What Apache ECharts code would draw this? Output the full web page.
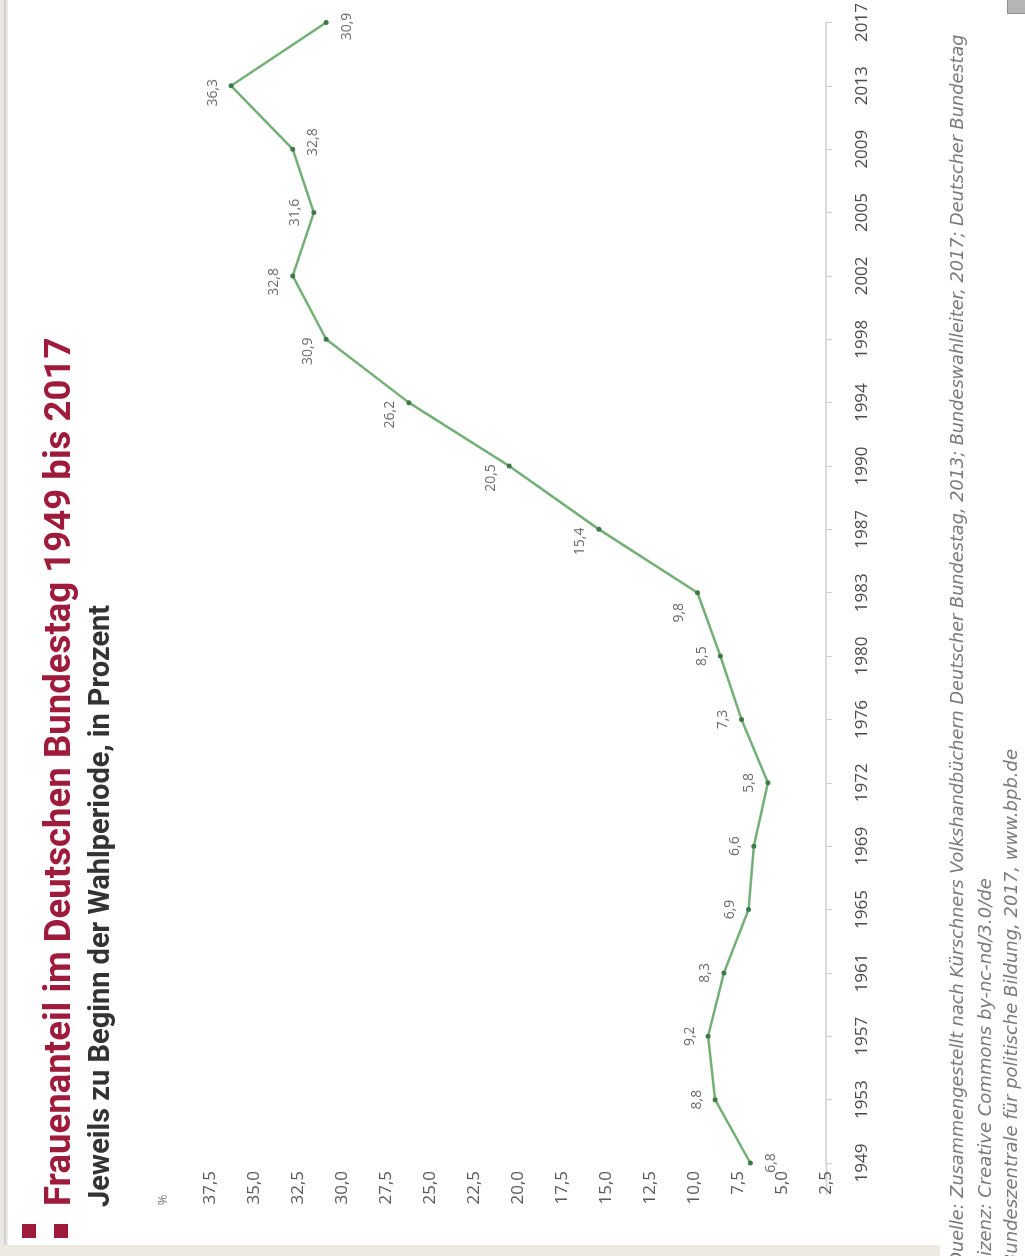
<!DOCTYPE html>
<html>
<head>
<meta charset="utf-8">
<script src="https://cdn.jsdelivr.net/npm/echarts@6/dist/echarts.min.js"></script>
<style>
html,body{margin:0;padding:0;background:#fff;}
#chart{width:1025px;height:1256px;}
</style>
</head>
<body>
<div id="chart"></div>
<script>
// ---- data ----
const years = ['1949','1953','1957','1961','1965','1969','1972','1976','1980','1983','1987','1990','1994','1998','2002','2005','2009','2013','2017'];
const shares = [6.8, 8.8, 9.2, 8.3, 6.9, 6.6, 5.8, 7.3, 8.5, 9.8, 15.4, 20.5, 26.2, 30.9, 32.8, 31.6, 32.8, 36.3, 30.9];
const titleText = 'Frauenanteil im Deutschen Bundestag 1949 bis 2017';
const subtitleText = 'Jeweils zu Beginn der Wahlperiode, in Prozent';
const unitText = '%';
const sourceLines = [
  'Quelle: Zusammengestellt nach Kürschners Volkshandbüchern Deutscher Bundestag, 2013; Bundeswahlleiter, 2017; Deutscher Bundestag',
  'Lizenz: Creative Commons by-nc-nd/3.0/de',
  'Bundeszentrale für politische Bildung, 2017, www.bpb.de'
];

// ---- layout / style ----
const fmt = v => v.toFixed(1).replace('.', ',');
// label side per point: 'L' = screen left, 'R' = screen right; dy = downward nudge in screen px
const labelLayout = [['R',0],['L',0],['L',0],['L',0],['L',0],['L',0],['L',0],['L',0],['L',0],['L',20],['L',12],['L',12],['L',12],['L',12],['L',6],['L',0],['R',-7],['L',7],['R',4]];

const seriesData = shares.map((v, i) => {
  const [side, dy] = labelLayout[i];
  return {
    value: v,
    label: {
      position: side === 'L' ? 'left' : 'right',
      distance: side === 'L' ? 16 : 18,
      // offset is applied in the rotated label frame
      offset: [-dy, 0]
    }
  };
});

const chart = echarts.init(document.getElementById('chart'));
const RAD = Math.PI / 2;
const option = {
  backgroundColor: '#ffffff',
  animation: false,
  grid: { left: 210, right: 199, top: 21, bottom: 93, containLabel: false },
  xAxis: {
    type: 'value',
    inverse: true,
    min: 2.5, max: 37.5, interval: 2.5,
    axisLine: { show: false },
    axisTick: { show: false },
    splitLine: { show: false },
    axisLabel: {
      rotate: 90, margin: 8,
      fontFamily: 'Open Sans', fontSize: 17, color: '#5a5a5a',
      formatter: v => fmt(v)
    }
  },
  yAxis: {
    type: 'category',
    position: 'right',
    data: years,
    boundaryGap: false,
    axisLine: { show: true, lineStyle: { color: '#cfcfcf', width: 1.5 } },
    axisTick: { show: true, length: 6, lineStyle: { color: '#cfcfcf' } },
    splitLine: { show: false },
    axisLabel: {
      rotate: 90, margin: 28,
      fontFamily: 'Open Sans', fontSize: 17, color: '#4a4a4a'
    }
  },
  series: [{
    type: 'line',
    data: seriesData,
    symbol: 'circle',
    symbolSize: 5,
    itemStyle: { color: '#3e7a48' },
    lineStyle: { color: '#72b075', width: 2.5 },
    label: {
      show: true,
      rotate: 90,
      align: 'center',
      verticalAlign: 'middle',
      fontFamily: 'Open Sans', fontSize: 14, color: '#6a6a6a',
      formatter: p => fmt(p.value)
    }
  }],
  graphic: [
    // left border band
    { type: 'rect', left: 0, top: 0, shape: { width: 8, height: 1256 }, style: { fill: '#ebe9e6' }, silent: true },
    { type: 'rect', left: 4, top: 0, shape: { width: 2, height: 1256 }, style: { fill: '#d2cfcc' }, silent: true },
    // bottom beige strip
    { type: 'rect', left: 0, top: 1245, shape: { width: 940, height: 11 }, style: { fill: '#eeeae1' }, silent: true },
    // axis line extension below first category
    { type: 'line', shape: { x1: 826.5, y1: 1163, x2: 826.5, y2: 1195 }, style: { stroke: '#cfcfcf', lineWidth: 1.5 }, silent: true },
    // icon top right
    { type: 'rect', left: 1007, top: -2, shape: { width: 20, height: 15 }, style: { fill: '#b5b5b5', stroke: '#8f8f8f', lineWidth: 1 }, silent: true },
    // red squares
    { type: 'rect', left: 22, top: 1224, shape: { width: 14, height: 14 }, style: { fill: '#9e1b3c' }, silent: true },
    { type: 'rect', left: 54, top: 1224, shape: { width: 14, height: 14 }, style: { fill: '#9e1b3c' }, silent: true },
    // title
    { type: 'text', x: 61, y: 1206, rotation: RAD,
      style: { text: titleText, fill: '#9e1b3c', fontFamily: 'Roboto', fontWeight: 'bold', fontSize: 36.6, textAlign: 'left', textVerticalAlign: 'middle' } },
    { type: 'text', x: 102, y: 1207, rotation: RAD,
      style: { text: subtitleText, fill: '#333333', fontFamily: 'Roboto', fontWeight: 'bold', fontSize: 29, textAlign: 'left', textVerticalAlign: 'middle' } },
    { type: 'text', x: 163, y: 1200, rotation: RAD,
      style: { text: unitText, fill: '#777777', fontFamily: 'Open Sans', fontSize: 13, textAlign: 'center', textVerticalAlign: 'middle' } },
    // source lines
    { type: 'text', x: 958, y: 1266, rotation: RAD,
      style: { text: sourceLines[0], fill: '#7a7a7a', fontFamily: 'DejaVu Sans', fontStyle: 'italic', fontSize: 17.7, textAlign: 'left', textVerticalAlign: 'middle' } },
    { type: 'text', x: 986, y: 1266, rotation: RAD,
      style: { text: sourceLines[1], fill: '#7a7a7a', fontFamily: 'DejaVu Sans', fontStyle: 'italic', fontSize: 18, textAlign: 'left', textVerticalAlign: 'middle' } },
    { type: 'text', x: 1012, y: 1266, rotation: RAD,
      style: { text: sourceLines[2], fill: '#7a7a7a', fontFamily: 'DejaVu Sans', fontStyle: 'italic', fontSize: 18, textAlign: 'left', textVerticalAlign: 'middle' } }
  ]
};
chart.setOption(option);
</script>
</body>
</html>
